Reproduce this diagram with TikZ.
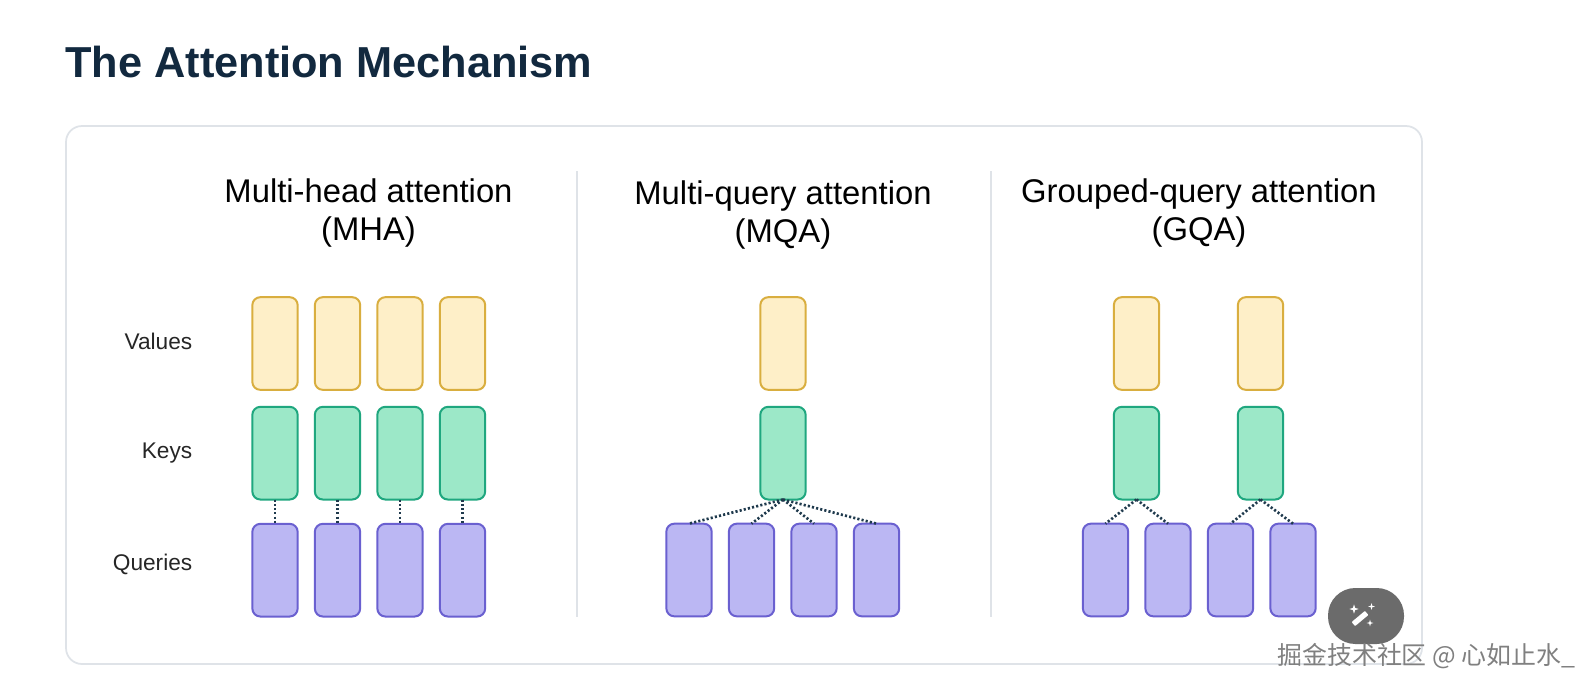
\documentclass[tikz,border=0pt]{standalone}
\usepackage{fontspec}
\setmainfont{Liberation Sans}
\newfontfamily\cjkfont{Noto Sans CJK SC}
\usetikzlibrary{positioning}
\usetikzlibrary{shapes.geometric}
\definecolor{headcolor}{HTML}{12293F}
\definecolor{cardcolor}{HTML}{DFE3E8}
\definecolor{valfill}{HTML}{FEEFC8}
\definecolor{valdraw}{HTML}{D9AE3F}
\definecolor{keyfill}{HTML}{9CE8C8}
\definecolor{keydraw}{HTML}{1FA77F}
\definecolor{qryfill}{HTML}{BBB7F3}
\definecolor{qrydraw}{HTML}{6A60D0}
\definecolor{linkcolor}{HTML}{1F3A4D}
\tikzset{
node distance = 12.75pt and 1pt,
   box/.style = {%
    shape=rectangle,
    rounded corners=6pt,
    line width=1.5pt,
    outer sep=0pt,
    minimum width=34pt,
    minimum height=69.5pt},
 valbox/.style = {box, draw=valdraw, fill=valfill},
 keybox/.style = {box, draw=keydraw, fill=keyfill},
 qrybox/.style = {box, draw=qrydraw, fill=qryfill},
 link/.style = {%
    draw=linkcolor,
    line width=2pt,
    dash pattern=on 1.6pt off 1.6pt},
 coltitle/.style = {%
    align=center,
    inner sep=0pt,
    font=\fontsize{24.6}{28.5}\selectfont},
 rowlabel/.style = {%
    anchor=east,
    inner sep=0pt,
    text=black!85,
    font=\fontsize{17}{18}\selectfont},
 sparkle/.style = {%
    shape=star,
    star points=4,
    star point ratio=3,
    fill=white,
    inner sep=0pt,
    minimum size=#1},
}
\begin{document}
\begin{tikzpicture}[x=0.75pt,y=-0.75pt]
    \useasboundingbox (0,0) rectangle (1596,690);
    \fill[white] (0,0) rectangle (1596,690);
    \node[anchor=west, inner sep=0pt, text=headcolor, font=\fontsize{32.5}{36}\selectfont\bfseries] (heading) at (65,62) {The Attention Mechanism};
    \node[draw=cardcolor, line width=1.3pt, rounded corners=12pt, outer sep=0pt, minimum width=1017pt, minimum height=403.5pt] (card) at (744,395) {};
    \coordinate (div1a) at (577,171);
    \coordinate (div1b) at (577,617);
    \coordinate (div2a) at (991,171);
    \coordinate (div2b) at (991,617);
    \draw[cardcolor, line width=1.1pt] (div1a) -- (div1b);
    \draw[cardcolor, line width=1.1pt] (div2a) -- (div2b);
    \node[coltitle] (mhatitle) at (368.5,213) {Multi-head attention\\(MHA)};
    \node[coltitle] (mqatitle) at (783,215) {Multi-query attention\\(MQA)};
    \node[coltitle] (gqatitle) at (1199,213.5) {Grouped-query attention\\(GQA)};
    \node[rowlabel] (vallabel) at (192.5,341) {Values};
    \node[rowlabel] (keylabel) at (192.5,453) {Keys};
    \node[rowlabel] (qrylabel) at (192.5,564) {Queries};
    % MHA
    \foreach \i/\x in {1/275,2/337.5,3/400,4/462.5} {
        \node[valbox] (mhav\i) at (\x,343.5) {};
        \node[keybox, below=of mhav\i] (mhak\i) {};
        \node[qrybox, below=18.25pt of mhak\i] (mhaq\i) {};
        \draw[link] (mhak\i.south) -- (mhaq\i.north);
    }
    % MQA
    \node[valbox] (mqav) at (783,343.5) {};
    \node[keybox, below=of mqav] (mqak) {};
    \foreach \i/\x in {1/689,2/751.5,3/814,4/876.5} {
        \node[qrybox] (mqaq\i) at (\x,570) {};
        \draw[link] (mqak.south) -- (mqaq\i.north);
    }
    % GQA
    \foreach \i/\x in {1/1136.5,2/1260.5} {
        \node[valbox] (gqav\i) at (\x,343.5) {};
        \node[keybox, below=of gqav\i] (gqak\i) {};
    }
    \foreach \i/\k/\x in {1/1/1105.5,2/1/1168,3/2/1230.5,4/2/1293} {
        \node[qrybox] (gqaq\i) at (\x,570) {};
        \draw[link] (gqak\k.south) -- (gqaq\i.north);
    }
    % button and watermark
    \node[fill=black!58, rounded corners=20.5pt, outer sep=0pt, minimum width=57pt, minimum height=42pt] (button) at (1366,616) {};
    \node[fill=white, rotate=40, inner sep=0pt, minimum width=13pt, minimum height=4pt, rounded corners=0.6pt] (wand) at (1360,618.5) {};
    \node[sparkle=7pt] (spark1) at (1354,609) {};
    \node[sparkle=5pt] (spark2) at (1371.5,606.5) {};
    \node[sparkle=5pt] (spark3) at (1370,623) {};
    \node[anchor=west, inner sep=0pt, text=black!50, font=\fontsize{18.7}{20}\selectfont\cjkfont] (watermark) at (1277,656) {掘金技术社区 @ 心如止水\_};
\end{tikzpicture}
\end{document}
